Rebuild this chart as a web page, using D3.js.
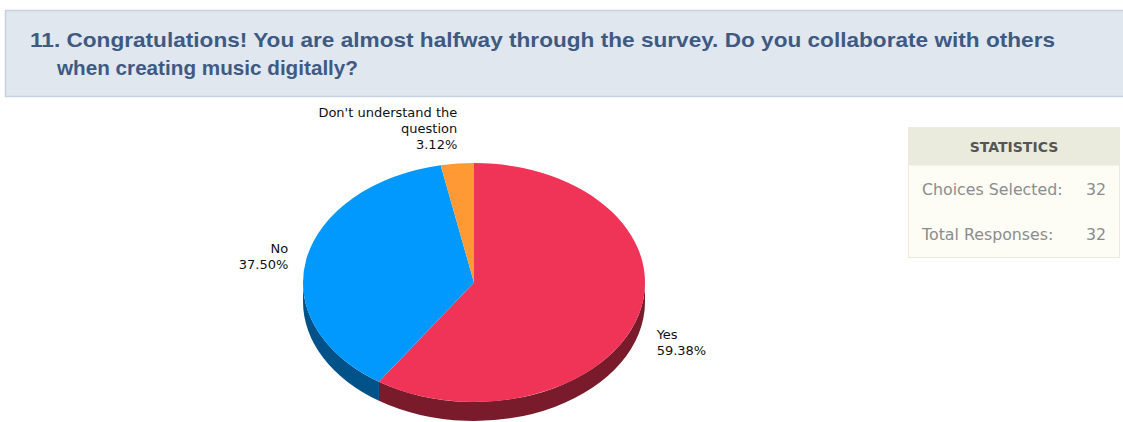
<!DOCTYPE html>
<html>
<head>
<meta charset="utf-8">
<script src="https://cdn.jsdelivr.net/npm/d3@7/dist/d3.min.js"></script>
<style>
  html, body { margin: 0; padding: 0; background: #ffffff; }
  svg { display: block; }
</style>
</head>
<body>
<div id="chart"></div>
<script>
// Survey question 11 — response shares
const categories = ["Yes", "No", "Don't understand the question"];
const labelLines = [["Yes"], ["No"], ["Don't understand the", "question"]];
const percents = [59.38, 37.50, 3.12];
const topColors = ["#f03458", "#0299fe", "#fe9933"];
const sideColors = ["#7a1b2c", "#02528a", "#a35d16"];

const titleLines = [
  "11. Congratulations! You are almost halfway through the survey. Do you collaborate with others",
  "when creating music digitally?"
];
const statLabels = ["Choices Selected:", "Total Responses:"];
const statValues = [32, 32];

const W = 1123, H = 422;
const svg = d3.select("#chart").append("svg").attr("width", W).attr("height", H);

// ---- question header ----
svg.append("rect")
  .attr("x", 5.5).attr("y", 10.5).attr("width", W + 5).attr("height", 86)
  .attr("fill", "#e0e7ef").attr("stroke", "#c6d2df").attr("stroke-width", 1.5);

const titleX = [30, 57], titleY = [47, 75], titleW = [1025, 301];
titleLines.forEach((t, i) => {
  svg.append("text")
    .attr("x", titleX[i]).attr("y", titleY[i])
    .attr("textLength", titleW[i]).attr("lengthAdjust", "spacingAndGlyphs")
    .attr("font-family", "Liberation Sans, Arial, sans-serif")
    .attr("font-size", 21).attr("font-weight", "bold")
    .attr("fill", "#3e5a82")
    .text(t);
});

// ---- 3D pie ----
const cx = 474, cy = 282.5, rx = 171, ry = 119.5, depth = 19;
const pie = d3.pie().sort(null).value(d => d).startAngle(0).endAngle(2 * Math.PI);
const arcs = pie(percents);

const pt = (a, dy = 0) => [cx + rx * Math.sin(a), cy - ry * Math.cos(a) + dy];

// side walls for the visible (front) half of the ellipse
const front0 = Math.PI / 2, front1 = 3 * Math.PI / 2;
const sides = svg.append("g");
arcs.forEach((d, i) => {
  const s = Math.max(d.startAngle, front0), e = Math.min(d.endAngle, front1);
  if (e <= s) return;
  const [x0, y0] = pt(s), [x1, y1] = pt(e);
  const [x2, y2] = pt(e, depth), [x3, y3] = pt(s, depth);
  const large = (e - s) > Math.PI ? 1 : 0;
  const dstr = `M${x0},${y0} A${rx},${ry} 0 ${large} 1 ${x1},${y1} L${x2},${y2} A${rx},${ry} 0 ${large} 0 ${x3},${y3} Z`;
  sides.append("path").attr("d", dstr).attr("fill", sideColors[i]);
});

// top face: circular arcs squashed into an ellipse
const arc = d3.arc().innerRadius(0).outerRadius(rx);
svg.append("g")
  .attr("transform", `translate(${cx},${cy}) scale(1,${ry / rx})`)
  .selectAll("path").data(arcs).join("path")
  .attr("d", arc)
  .attr("fill", (d, i) => topColors[i]);

// ---- slice labels ----
const lab = svg.append("g")
  .attr("font-family", "DejaVu Sans, Verdana, sans-serif")
  .attr("font-size", 13).attr("fill", "#111");
arcs.forEach((d, i) => {
  const mid = (d.startAngle + d.endAngle) / 2;
  const [mx, my] = pt(mid);
  const lines = labelLines[i].concat([percents[i].toFixed(2) + "%"]);
  let anchor, x, y0;
  const s = Math.sin(mid), c = Math.cos(mid);
  if (c > 0.95) {           // top label sits above the rim
    anchor = "end"; x = mx; y0 = my - 16 * lines.length + 1;
  } else if (s > 0) {        // right side
    anchor = "start"; x = mx + 19; y0 = my + 22;
  } else {                   // left side
    anchor = "end"; x = mx - 18; y0 = my - 6;
  }
  lines.forEach((t, k) => {
    lab.append("text")
      .attr("x", x).attr("y", y0 + k * 16)
      .attr("text-anchor", anchor)
      .text(t);
  });
});

// ---- statistics box ----
const bx = 908.5, by = 127.5, bw = 211, hh = 38, bh = 130;
svg.append("rect").attr("x", bx).attr("y", by).attr("width", bw).attr("height", bh)
  .attr("fill", "#fdfdf6").attr("stroke", "#ebebdf");
svg.append("rect").attr("x", bx).attr("y", by).attr("width", bw).attr("height", hh)
  .attr("fill", "#ebebdd");
svg.append("text")
  .attr("x", bx + bw / 2).attr("y", by + hh / 2 + 5)
  .attr("text-anchor", "middle")
  .attr("font-family", "DejaVu Sans, Verdana, sans-serif")
  .attr("font-size", 14).attr("font-weight", "bold").attr("fill", "#555555")
  .text("STATISTICS");
statLabels.forEach((t, i) => {
  const y = 195 + i * 45;
  svg.append("text").attr("x", 922).attr("y", y)
    .attr("font-family", "DejaVu Sans, Verdana, sans-serif")
    .attr("font-size", 15.8).attr("fill", "#8c8c8c").text(t);
  svg.append("text").attr("x", 1106).attr("y", y).attr("text-anchor", "end")
    .attr("font-family", "DejaVu Sans, Verdana, sans-serif")
    .attr("font-size", 15.8).attr("fill", "#8c8c8c").text(statValues[i]);
});
</script>
</body>
</html>
